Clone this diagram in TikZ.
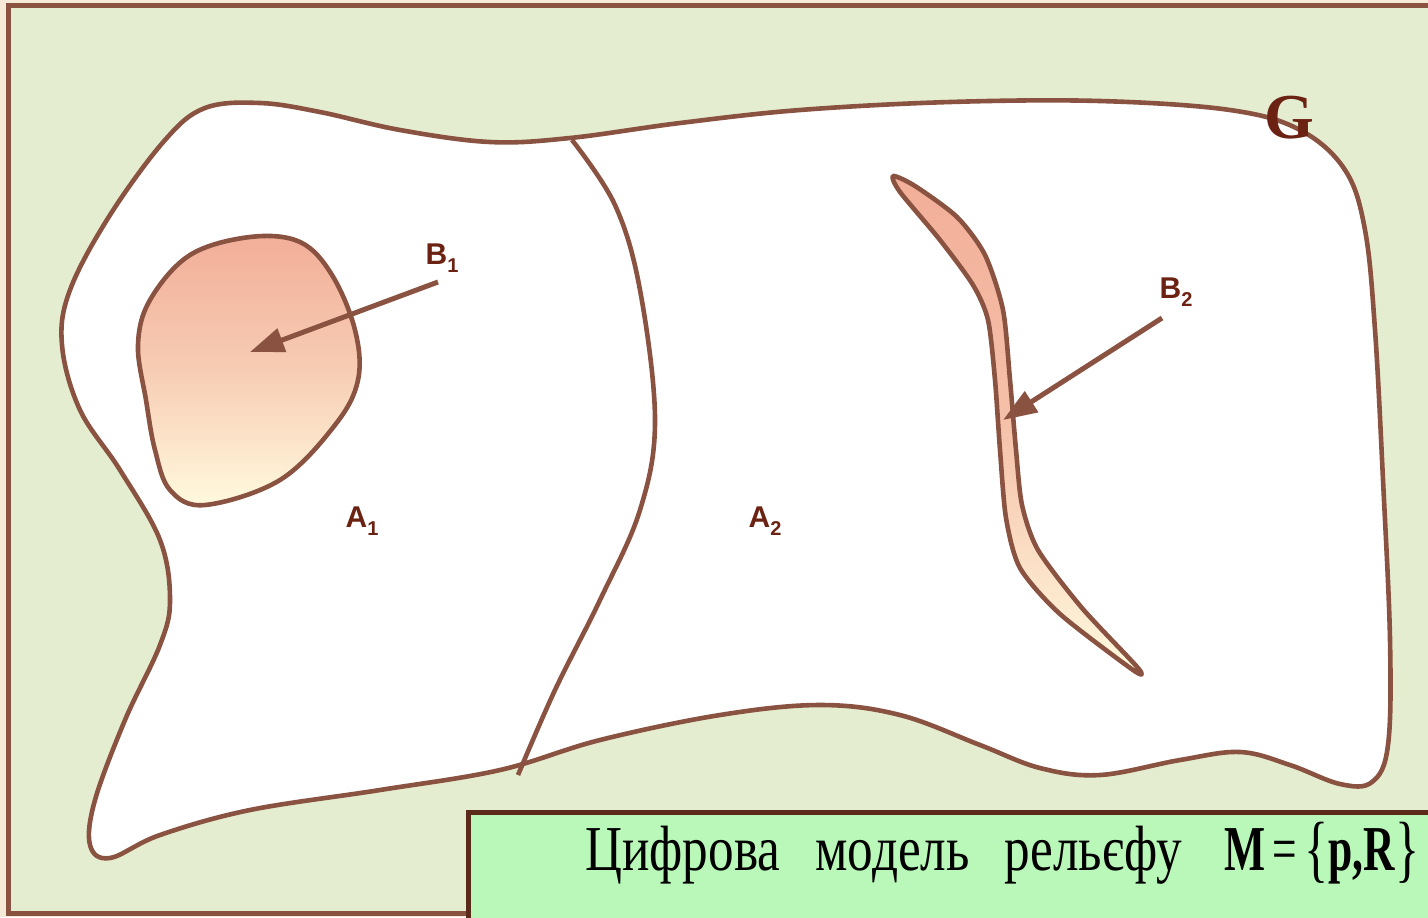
\documentclass[tikz,border=0pt]{standalone}
\usepackage{fontspec}
\setmainfont{Liberation Serif}
\newfontfamily\labelfont{Liberation Sans}
\usetikzlibrary{arrows.meta}

\definecolor{pageback}{HTML}{F4EAD7}
\definecolor{fieldback}{HTML}{E5EDD0}
\definecolor{rim}{HTML}{8A5240}
\definecolor{labelbrown}{HTML}{6B2212}
\definecolor{boxgreen}{HTML}{B9F8B9}
\definecolor{boxrim}{HTML}{5A2A1A}
\definecolor{salmon}{HTML}{F2AE98}
\definecolor{cream}{HTML}{FFFADE}

\newcommand\lowsub[1]{\raisebox{-0.5ex}{\fontsize{10}{10}\selectfont#1}}

\begin{document}
\begin{tikzpicture}[x=0.5pt, y=-0.5pt,
    every node/.style={font=\labelfont\bfseries\fontsize{15}{17}\selectfont, text=labelbrown},
    rimline/.style={draw=rim, line width=2.3pt, line join=round},
    pointer/.style={draw=rim, line width=2.5pt, -{Triangle[length=17pt, width=12pt]}}]
  \useasboundingbox (0,0) rectangle (1428,917);
  \clip (0,0) rectangle (1428,917);
  \fill[pageback] (0,0) rectangle (1428,917);
  \draw[fill=fieldback, draw=rim, line width=2.5pt] (8,5) rectangle (1460,913);

  % region G
  \draw[rimline, fill=white] plot[smooth cycle, tension=0.6] coordinates {
    (165,140) (205,108) (260,103) (320,112) (400,130) (490,142) (570,138)
    (680,123) (800,110) (950,102) (1100,101) (1230,110) (1300,130) (1345,170)
    (1365,230) (1375,330) (1383,480) (1390,640) (1388,745) (1372,782) (1340,784)
    (1290,765) (1240,752) (1180,760) (1100,775) (1040,768) (980,745) (900,715)
    (820,705) (720,715) (600,740) (500,770) (380,790) (250,810) (160,835)
    (110,858) (90,845) (95,800) (125,720) (160,645) (170,600) (160,540)
    (120,470) (80,410) (62,345) (70,290) (110,215)};
  \node[font=\rmfamily\bfseries\fontsize{32}{34}\selectfont] (g) at (1289,118) {G};

  % border between A1 and A2
  \draw[rimline] plot[smooth, tension=0.6] coordinates {
    (572,140) (615,205) (640,290) (655,420) (640,510) (600,600) (555,690) (518,775)};

  % B1
  \draw[rimline, top color=salmon, bottom color=cream, middle color=salmon!60!cream]
    plot[smooth cycle, tension=0.6] coordinates {
    (250,237) (300,242) (332,275) (355,330) (358,380) (335,425) (280,480)
    (205,505) (170,490) (155,450) (146,400) (138,345) (150,300) (190,255)};

  % B2
  \draw[rimline, top color=salmon, bottom color=cream, middle color=salmon!75!cream]
    plot[smooth cycle, tension=0.45] coordinates {
    (893,176) (915,186) (957,217) (985,255) (1003,310) (1010,380) (1016,450)
    (1022,505) (1038,550) (1082,608) (1138,668) (1133,670) (1060,614)
    (1020,568) (1006,518) (1000,450) (995,380) (988,320) (973,285)
    (940,240) (900,192)};

  \node (b1) at (442,258) {B\lowsub{1}};
  \node (b2) at (1176,292) {B\lowsub{2}};
  \node (a1) at (362,521) {A\lowsub{1}};
  \node (a2) at (765,521) {A\lowsub{2}};

  \coordinate (b1tail) at (438,282);
  \coordinate (b1head) at (250,352);
  \coordinate (b2tail) at (1162,318);
  \coordinate (b2head) at (1003,420);
  \draw[pointer] (b1tail) -- (b1head);
  \draw[pointer] (b2tail) -- (b2head);

  % caption box
  \draw[fill=boxgreen, draw=boxrim, line width=2.5pt] (468,812) rectangle (1460,940);
  \node[anchor=base west, inner sep=0pt, text=black, font=\rmfamily\fontsize{32}{34}\selectfont]
    (caption) at (585,870)
    {\scalebox{0.8}[1]{Цифрова\hspace{22pt}модель\hspace{22pt}рельєфу}};
  \node[anchor=base west, inner sep=0pt, text=black, font=\rmfamily\fontsize{32}{34}\selectfont]
    (model) at (1224,870)
    {\scalebox{0.68}[1]{\textbf{M}\,=\,\raisebox{-1.5pt}{\fontsize{37}{37}\selectfont\{}\textbf{p,R}\raisebox{-1.5pt}{\fontsize{37}{37}\selectfont\}}}};
\end{tikzpicture}
\end{document}
